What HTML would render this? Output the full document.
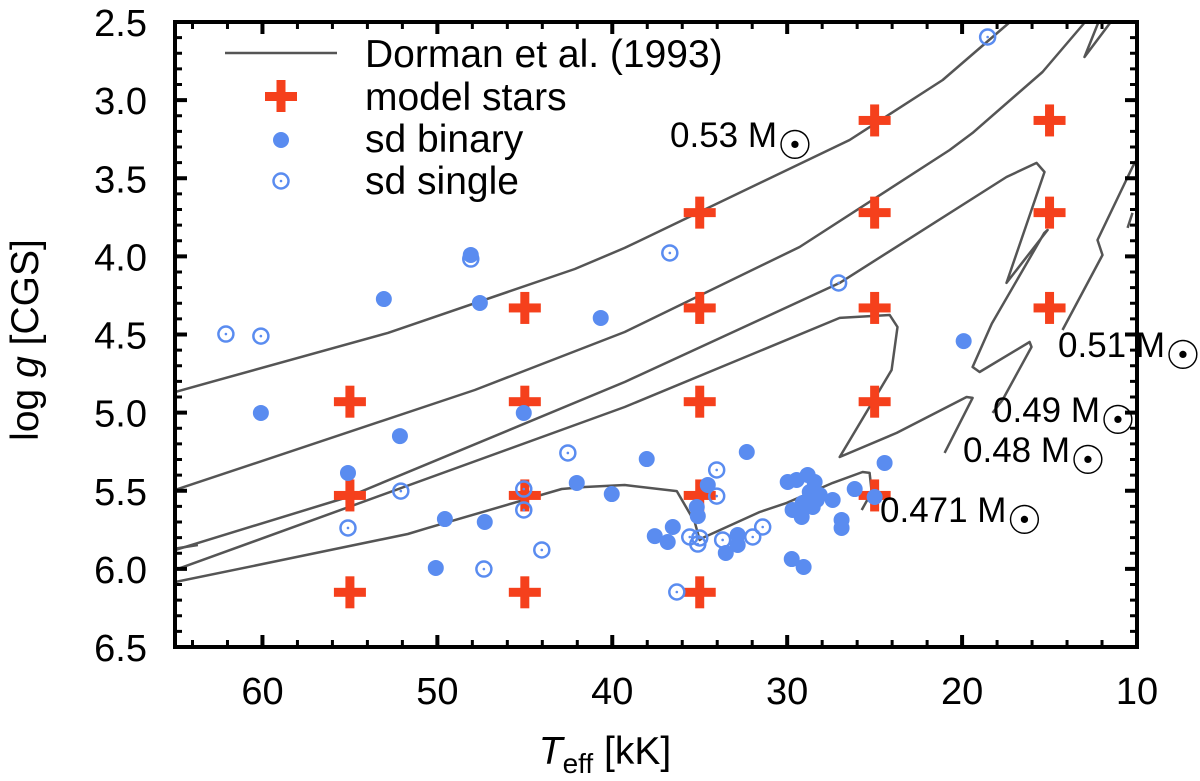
<!DOCTYPE html>
<html><head><meta charset="utf-8"><style>
html,body{margin:0;padding:0;background:#fff;}
svg{display:block;font-family:"Liberation Sans",sans-serif;}
</style></head><body>
<svg id="chart" width="1200" height="781" viewBox="0 0 1200 781" xmlns="http://www.w3.org/2000/svg">
<g id="tracks"></g>
<g id="marks"></g>
<g id="axes"></g>
<g id="legend">
  <line x1="225" y1="53" x2="337" y2="53" stroke="#555" stroke-width="2.5"/>
  <text x="365" y="67" font-size="39">Dorman et al. (1993)</text>
  <g><rect x="265" y="92" width="32" height="9" fill="#f5401c"/><rect x="276.5" y="80" width="9" height="32" fill="#f5401c"/></g>
  <text x="365" y="110" font-size="39">model stars</text>
  <circle cx="281" cy="140" r="8" fill="#5a8cf0"/>
  <text x="365" y="152" font-size="39">sd binary</text>
  <circle cx="281" cy="181" r="7.5" fill="none" stroke="#5a8cf0" stroke-width="2.5"/>
  <circle cx="281" cy="181" r="1.3" fill="#5a8cf0"/>
  <text x="365" y="194" font-size="39">sd single</text>
</g>
<g id="masslabels" font-size="35">
  <text x="670" y="147">0.53 M<tspan dy="12" font-size="40">☉</tspan></text>
  <text x="1058" y="357">0.51 M<tspan dy="12" font-size="40">☉</tspan></text>
  <text x="993" y="422">0.49 M<tspan dy="12" font-size="40">☉</tspan></text>
  <text x="963" y="462">0.48 M<tspan dy="12" font-size="40">☉</tspan></text>
  <text x="880" y="522">0.471 M<tspan dy="12" font-size="40">☉</tspan></text>
</g>
<text x="605" y="764" font-size="39" text-anchor="middle"><tspan font-style="italic">T</tspan><tspan font-size="28" dy="9">eff</tspan><tspan dy="-9"> [kK]</tspan></text>
<text transform="translate(38,340) rotate(-90)" font-size="39" text-anchor="middle">log <tspan font-style="italic">g</tspan> [CGS]</text>
</svg>
<script>
const xTicks=[60,50,40,30,20,10];
const yTicks=[2.5,3.0,3.5,4.0,4.5,5.0,5.5,6.0,6.5];
const track053=[[65,4.868],[52.83,4.49],[42.14,4.081],[39.29,3.946],[26.43,3.255],[21.11,2.871],[17.46,2.519],[17.0,2.474]];
const track051a=[[65,5.495],[47.86,4.855],[39.29,4.484],[29.29,3.94],[20.71,3.319],[19.4,3.21],[15.4,2.82],[13.11,2.519],[12.89,2.487]];
const track049=[[65,5.879],[55.11,5.54],[39.29,4.804],[27.0,4.17],[17.46,3.492],[15.74,3.402],[15.29,3.46],[17.46,4.17],[15.11,3.831],[15.3,3.85],[18.3,4.43],[19.4,4.708],[19.0,4.74],[16.14,4.548],[16.03,4.58],[17.69,4.919],[18.26,5.002]];
const trackStub=[[65,5.87],[63.69,5.847]];
const track048=[[65,6.007],[39.29,4.964],[27.0,4.394],[24.14,4.375],[23.69,4.452],[24.03,4.727],[27.0,5.284],[23.74,5.13],[19.74,4.9],[19.4,4.906],[21.0,5.258]];
const track0471=[[65,6.084],[60.26,5.975],[51.69,5.777],[50.54,5.738],[42.89,5.489],[41.57,5.476],[39.29,5.463],[36.31,5.502],[35.29,5.7],[35.0,5.815],[34.83,5.802],[31.57,5.636],[30.03,5.578],[27.4,5.45],[25.69,5.38],[25.29,5.386],[25.17,5.508],[25.74,5.623]];
const track051b=[[9.6,3.3],[10.26,3.428],[12.26,3.895],[11.97,3.991],[14.26,4.471]];
const track051c=[[10.26,3.722],[10.54,3.818]];
const track051d=[[12.2,2.5],[13.0,2.724],[11.5,2.5]];
const modelT=[55,55,55,45,45,45,45,35,35,35,35,35,25,25,25,25,25,15,15,15];
const modelG=[4.93,5.53,6.15,4.33,4.93,5.53,6.15,3.72,4.33,4.93,5.53,6.15,3.13,3.72,4.33,4.93,5.53,3.13,3.72,4.33];
const binaryT=[53.06,48.09,47.57,40.66,60.09,45.06,52.14,55.11,42.03,40.03,49.57,47.29,50.09,38.03,32.31,34.54,35.17,35.11,37.57,36.54,36.83,32.83,32.83,33.51,29.97,29.46,28.83,28.43,28.71,28.14,27.4,29.11,28.54,29.17,28.31,29.69,26.89,26.89,26.14,24.43,25.0,29.74,29.06,19.91];
const binaryG=[4.273,3.991,4.298,4.394,5.002,5.002,5.15,5.386,5.45,5.521,5.681,5.7,5.994,5.297,5.252,5.463,5.604,5.662,5.79,5.732,5.828,5.783,5.847,5.898,5.444,5.431,5.399,5.444,5.508,5.527,5.559,5.578,5.604,5.668,5.559,5.623,5.687,5.738,5.489,5.322,5.54,5.937,5.988,4.542];
const singleT=[62.09,60.09,48.09,52.09,42.54,45.06,45.06,55.11,44.03,47.34,34.03,34.03,35.57,35.0,35.11,33.69,31.97,31.4,36.31,18.54,27.06,36.71];
const singleG=[4.497,4.51,4.017,5.502,5.258,5.489,5.623,5.738,5.879,6.001,5.367,5.534,5.796,5.802,5.841,5.815,5.796,5.732,6.148,2.596,4.17,3.978];

const L=175,R=1137,T0=22,B=647,xmin=65,xmax=10,ymin=2.5,ymax=6.5;
const sx=v=>L+(xmin-v)/(xmin-xmax)*(R-L);
const sy=v=>T0+(v-ymin)/(ymax-ymin)*(B-T0);
const NS='http://www.w3.org/2000/svg';
function mk(tag,parent,attrs){const e=document.createElementNS(NS,tag);for(const k in attrs)e.setAttribute(k,attrs[k]);parent.appendChild(e);return e;}

const defs=mk('defs',document.getElementById('chart'),{});
const cp=mk('clipPath',defs,{id:'plotclip'});
mk('rect',cp,{x:L,y:T0,width:R-L,height:B-T0});

const tg=document.getElementById('tracks');
tg.setAttribute('clip-path','url(#plotclip)');
const tracks=[['track-053',track053],['track-051',track051a],['track-049',track049],['track-stub',trackStub],['track-048',track048],['track-0471',track0471],['track-051-right',track051b],['track-051-right-b',track051c],['track-051-top',track051d]];
tracks.forEach(([n,arr])=>{
  const p=mk('polyline',tg,{points:arr.map(d=>sx(d[0]).toFixed(1)+','+sy(d[1]).toFixed(1)).join(' '),fill:'none',stroke:'#555',"stroke-width":2.5,"stroke-linejoin":'round'});
  
  
});

const mg=document.getElementById('marks');
modelT.forEach((t,i)=>{
  const g=mk('g',mg,{fill:'#f5401c'});
  
  
  const cx=sx(t),cy=sy(modelG[i]);
  mk('rect',g,{x:cx-16,y:cy-4.5,width:32,height:9});
  mk('rect',g,{x:cx-4.5,y:cy-16,width:9,height:32});
});
binaryT.forEach((t,i)=>{
  const c=mk('circle',mg,{cx:sx(t),cy:sy(binaryG[i]),r:8,fill:'#5a8cf0'});
  
  
});
singleT.forEach((t,i)=>{
  const g=mk('g',mg,{});
  
  
  const cx=sx(t),cy=sy(singleG[i]);
  mk('circle',g,{cx:cx,cy:cy,r:7.5,fill:'none',stroke:'#5a8cf0',"stroke-width":2.5});
  mk('circle',g,{cx:cx,cy:cy,r:1.3,fill:'#5a8cf0'});
});

const ag=document.getElementById('axes');
for(let v=64;v>=10;v-=2){
  const x=sx(v);const major=(v%10===0);const len=major?12:7;
  const a=mk('line',ag,{x1:x,y1:B,x2:x,y2:B-len,stroke:'#000',"stroke-width":major?4:3});
  
  const b=mk('line',ag,{x1:x,y1:T0,x2:x,y2:T0+len,stroke:'#000',"stroke-width":major?4:3});
  
}
for(let k=25;k<=65;k++){
  const v=k/10;const y=sy(v);const major=(k%5===0);const len=major?12:7;
  const a=mk('line',ag,{x1:L,y1:y,x2:L+len,y2:y,stroke:'#000',"stroke-width":major?4:3});
  
  const b=mk('line',ag,{x1:R,y1:y,x2:R-len,y2:y,stroke:'#000',"stroke-width":major?4:3});
  
}
const fr=mk('rect',ag,{x:L,y:T0,width:R-L,height:B-T0,fill:'none',stroke:'#000',"stroke-width":4});


xTicks.forEach(v=>{
  const t=mk('text',ag,{x:sx(v),y:704,"font-size":38,"text-anchor":'middle'});
  t.textContent=String(v);
  
  
});
yTicks.forEach(v=>{
  const t=mk('text',ag,{x:147,y:sy(v)+14,"font-size":38,"text-anchor":'end'});
  t.textContent=v.toFixed(1);
  
  
});
</script>
</body></html>
